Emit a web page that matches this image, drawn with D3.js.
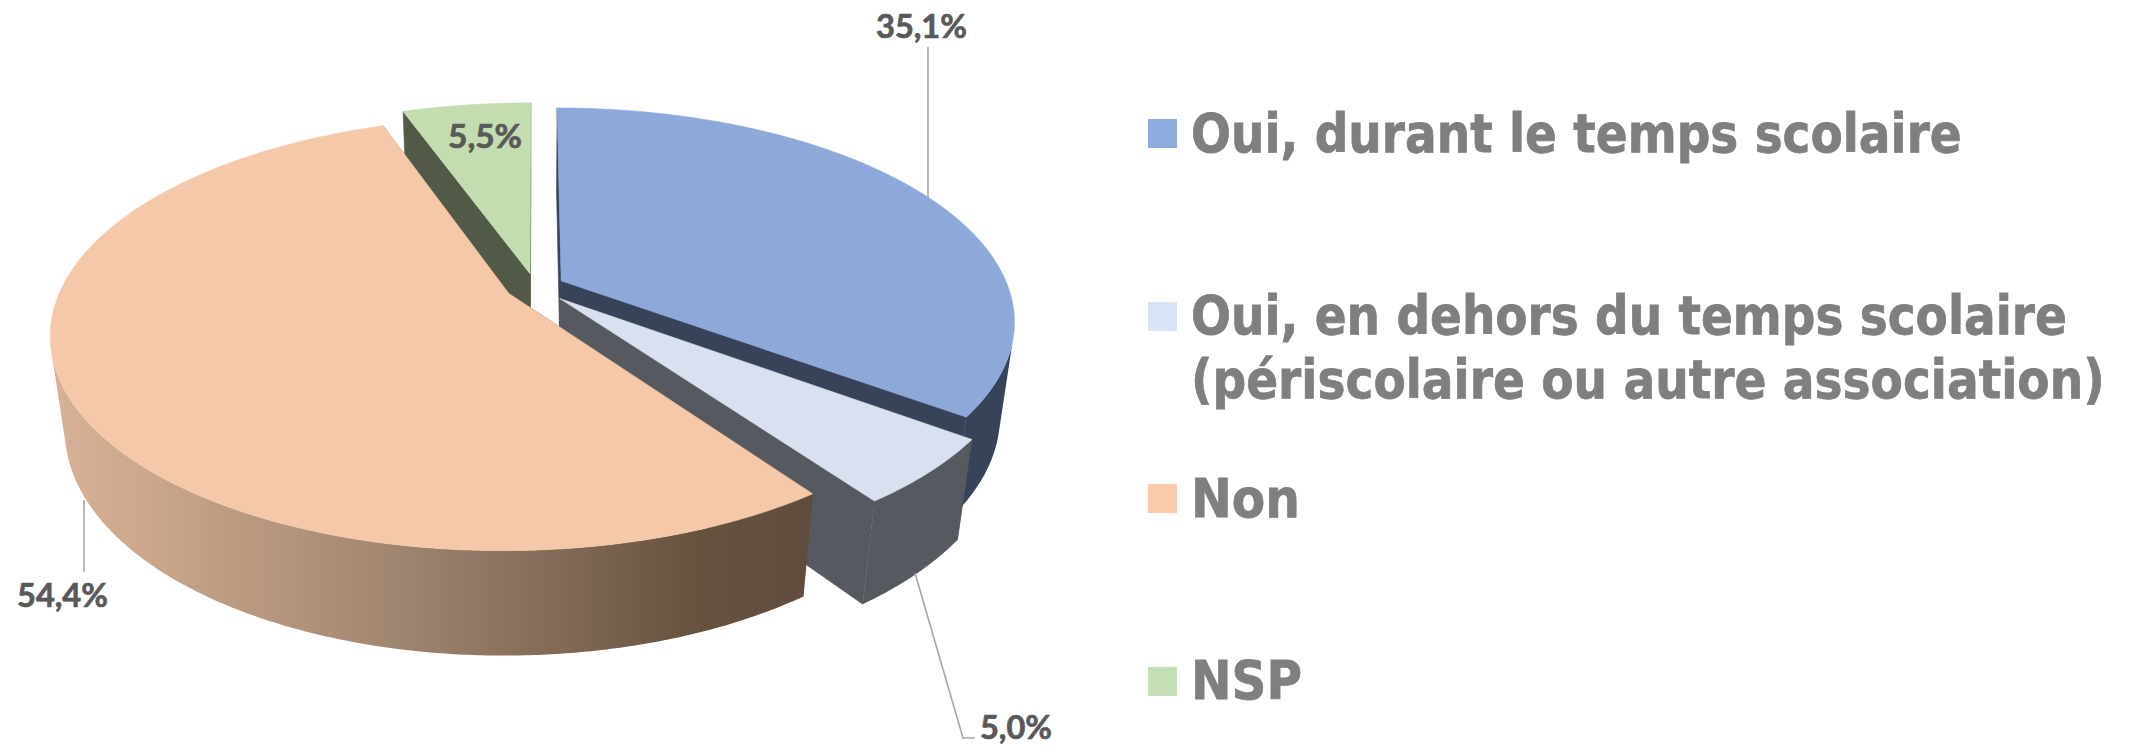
<!DOCTYPE html>
<html><head><meta charset="utf-8">
<style>html,body{margin:0;padding:0;background:#fff;overflow:hidden}svg{display:block}</style>
<script src="https://cdnjs.cloudflare.com/ajax/libs/d3/7.8.5/d3.min.js"></script>
</head><body><svg id="c" width="2136" height="746"></svg>
<script>
// ---- data ----
const categories = ["Oui, durant le temps scolaire", "Oui, en dehors du temps scolaire", "Non", "NSP"];
const values = [35.1, 5.0, 54.4, 5.5];
const explodeBy = [0.066, 0.078, 0.066, 0.066];
const topColors = ["#8ea8da", "#d9e0ef", "#f4c8a9", "#c4ddb0"];
const swatchColors = ["#8faadc", "#dae3f3", "#f8cbad", "#c5e0b4"];
const wallColors = ["#364358", "#565960", "url(#peachWall)", "#505a46"];
const paintOrder = [3, 0, 1, 2];
const legendLines = [
  ["Oui, durant le temps scolaire"],
  ["Oui, en dehors du temps scolaire", "(périscolaire ou autre association)"],
  ["Non"],
  ["NSP"]
];

// ---- layout ----
const cam = {ox: 535, oy: 287, A: 447, B: 207, C: 96, k: 0.185, m: 0.03};
const svg = d3.select("#c");

const defs = svg.append("defs");
const grad = defs.append("linearGradient").attr("id", "peachWall")
  .attr("gradientUnits", "userSpaceOnUse").attr("x1", 60).attr("x2", 811).attr("y1", 0).attr("y2", 0);
[[0, "#d6b196"], [0.1, "#cda88d"], [0.45, "#a08570"], [0.85, "#67523f"], [1, "#5f4c3e"]]
  .forEach(s => grad.append("stop").attr("offset", s[0]).attr("stop-color", s[1]));

// perspective camera: u right, v toward viewer, h downward
function project(u, v, h) {
  const w = 1 - cam.k * v + cam.m * h;
  return [cam.ox + cam.A * u / w, cam.oy + (cam.B * v + cam.C * h) / w];
}
const pie = d3.pie().value(d => d).sort(null)(values);
const line = d3.line();
const STEP = Math.PI / 360;

function angleSteps(a0, a1) {
  const n = Math.max(2, Math.ceil((a1 - a0) / STEP));
  return d3.range(n + 1).map(i => a0 + (a1 - a0) * i / n);
}
const sliceShapes = pie.map((d, i) => {
  const mid = (d.startAngle + d.endAngle) / 2;
  const du = Math.sin(mid) * explodeBy[i], dv = -Math.cos(mid) * explodeBy[i];
  const P = (a, r, h) => project(du + r * Math.sin(a), dv - r * Math.cos(a), h);
  const angs = angleSteps(d.startAngle, d.endAngle);
  const top = [P(0, 0, 0), ...angs.map(a => P(a, 1, 0))];
  const startFace = [P(0, 0, 0), P(d.startAngle, 1, 0), P(d.startAngle, 1, 1), P(0, 0, 1)];
  const endFace = [P(0, 0, 0), P(d.endAngle, 1, 0), P(d.endAngle, 1, 1), P(0, 0, 1)];
  // keep only the rim quads that face the viewer, all with the same winding
  const rim = d3.pairs(angs)
    .map(([a, b]) => [P(a, 1, 0), P(b, 1, 0), P(b, 1, 1), P(a, 1, 1)])
    .filter(q => d3.polygonArea(q) > 0);
  return {i, top, faces: [startFace, endFace], rim};
});

paintOrder.forEach(idx => {
  const s = sliceShapes[idx];
  const g = svg.append("g").attr("class", "slice");
  g.selectAll("path.face").data(s.faces).join("path").attr("class", "face")
    .attr("d", q => line(q) + "Z").attr("fill", wallColors[idx])
    .attr("stroke", wallColors[idx]).attr("stroke-width", 0.6);
  g.append("path").attr("class", "rim")
    .attr("d", s.rim.map(q => line(q) + "Z").join(""))
    .attr("fill", wallColors[idx]);
  g.append("path").attr("d", line(s.top) + "Z").attr("fill", topColors[idx])
    .attr("stroke", topColors[idx]).attr("stroke-width", 0.6);
});

// ---- leader lines ----
const leaders = [
  [[928, 47], [928, 198]],
  [[915, 573], [963, 738], [975, 738]],
  [[84, 500], [84, 572]]
];
svg.selectAll("path.leader").data(leaders).join("path").attr("class", "leader")
  .attr("d", d => line(d)).attr("fill", "none").attr("stroke", "#a6a6a6").attr("stroke-width", 1.6);

// fit a text to a target width by a horizontal scale around its start
function fitText(sel, x, y, width) {
  sel.attr("x", 0).attr("y", 0);
  sel.each(function (d, i) {
    const natural = this.getComputedTextLength();
    d3.select(this).attr("transform",
      `translate(${x(d, i)},${y(d, i)}) scale(${width(d, i) / natural},1)`);
  });
}

// ---- data labels ----
const labelPos = [[876, 38, 91], [980, 739, 72], [17, 607, 91], [448, 148, 74]];
svg.selectAll("text.val").data(values).join("text").attr("class", "val")
  .attr("font-family", "Lato, 'Open Sans', sans-serif").attr("font-weight", 700).attr("font-size", 32)
  .attr("fill", "#595959").attr("stroke", "#595959").attr("stroke-width", 0.7)
  .text(d => d.toFixed(1).replace(".", ",") + "%")
  .call(fitText, (d, i) => labelPos[i][0], (d, i) => labelPos[i][1], (d, i) => labelPos[i][2]);

// ---- legend ----
const swatchX = 1148, swatchSize = 29;
const swatchY = [119, 302, 484, 667];
const textX = 1191;
const legendBase = [[152], [334, 398], [517], [699]];
const legendWidth = [[771], [876, 914], [109], [111]];
const legend = svg.selectAll("g.leg").data(legendLines).join("g").attr("class", "leg");
legend.append("rect").attr("x", swatchX).attr("y", (d, i) => swatchY[i])
  .attr("width", swatchSize).attr("height", swatchSize).attr("fill", (d, i) => swatchColors[i]);
legend.each(function (lines, i) {
  d3.select(this).selectAll("text").data(lines).join("text")
    .attr("font-family", "'DejaVu Sans', sans-serif").attr("font-weight", 700).attr("font-size", 54)
    .attr("fill", "#7f7f7f").attr("stroke", "#7f7f7f").attr("stroke-width", 0.8)
    .text(d => d)
    .call(fitText, () => textX, (d, j) => legendBase[i][j], (d, j) => legendWidth[i][j]);
});
</script></body></html>
